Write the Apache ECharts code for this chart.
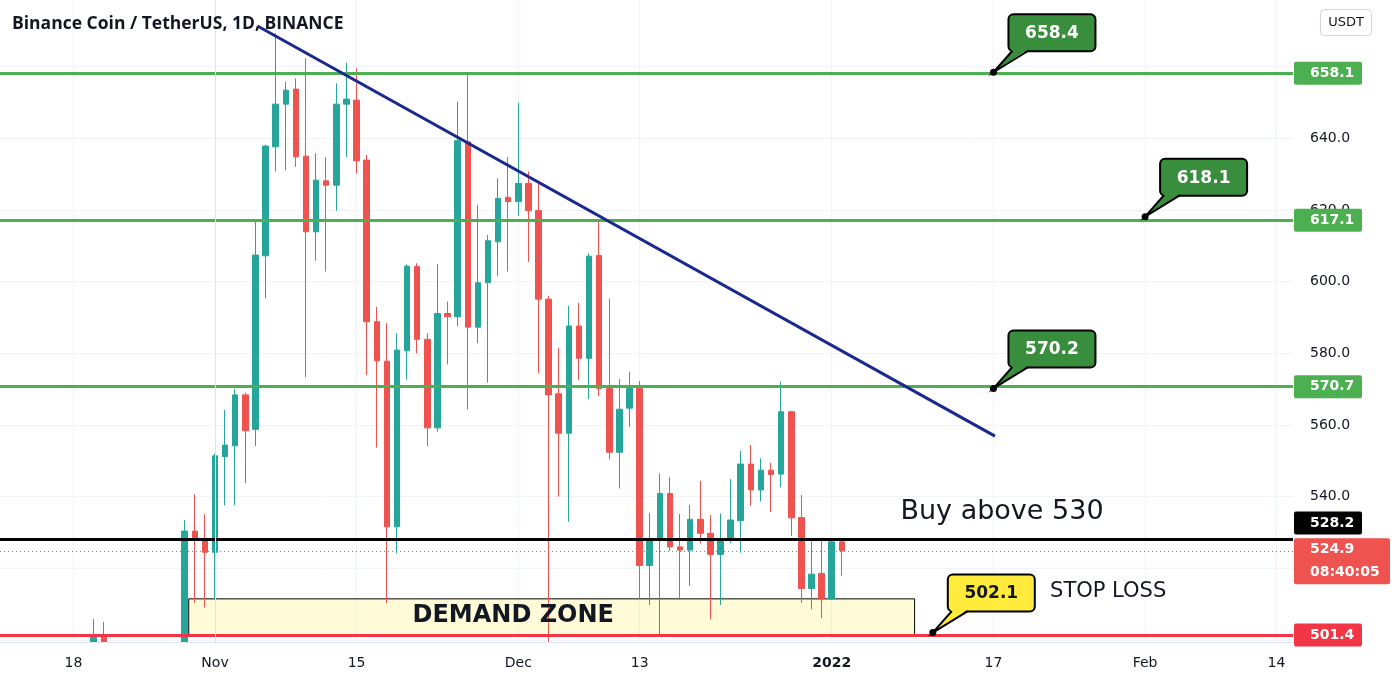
<!DOCTYPE html>
<html><head><meta charset="utf-8">
<script src="https://cdn.jsdelivr.net/npm/echarts@6/dist/echarts.min.js"></script>
<style>html,body{margin:0;padding:0;background:#fff}#c{width:1396px;height:684px}</style>
</head><body><div id="c"></div>
<script>
// ---------- DATA ----------
const dates = ['2021-10-20','2021-10-21','2021-10-29','2021-10-30','2021-10-31',
 '2021-11-01','2021-11-02','2021-11-03','2021-11-04','2021-11-05','2021-11-06','2021-11-07','2021-11-08','2021-11-09','2021-11-10',
 '2021-11-11','2021-11-12','2021-11-13','2021-11-14','2021-11-15','2021-11-16','2021-11-17','2021-11-18','2021-11-19','2021-11-20',
 '2021-11-21','2021-11-22','2021-11-23','2021-11-24','2021-11-25','2021-11-26','2021-11-27','2021-11-28','2021-11-29','2021-11-30',
 '2021-12-01','2021-12-02','2021-12-03','2021-12-04','2021-12-05','2021-12-06','2021-12-07','2021-12-08','2021-12-09','2021-12-10',
 '2021-12-11','2021-12-12','2021-12-13','2021-12-14','2021-12-15','2021-12-16','2021-12-17','2021-12-18','2021-12-19','2021-12-20',
 '2021-12-21','2021-12-22','2021-12-23','2021-12-24','2021-12-25','2021-12-26','2021-12-27','2021-12-28','2021-12-29','2021-12-30',
 '2021-12-31','2022-01-01','2022-01-02'];
const open  = [492,501.3,492,530.4,528.4,
 524.5,551.2,554.2,568.4,558.8,607.2,637.6,649.5,653.7,635.0,
 613.9,628.1,626.9,649.5,650.6,633.9,588.8,577.8,531.6,580.7,
 604.2,583.9,559.2,591.1,590.2,639.0,587.3,599.7,611.1,623.5,
 622.3,627.4,619.8,595.1,568.7,557.7,587.6,578.6,607.3,570.2,
 552.4,564.7,570.2,520.8,527.9,540.9,526.0,525.1,533.7,529.8,
 523.9,528.2,533.3,549.1,541.9,547.4,546.3,563.7,534.2,514.4,
 518.6,511.5,527.4];
const close = [501.3,488,530.4,527.9,524.5,
 551.4,554.4,568.4,558.4,607.4,637.8,649.5,653.4,634.8,613.9,
 628.3,626.9,649.5,650.9,633.7,588.8,577.9,531.6,580.9,604.3,
 583.9,559.2,591.1,590.2,639.3,587.3,599.7,611.4,623.2,622.3,
 627.4,619.8,595.1,568.4,557.7,587.6,578.6,607.1,570.2,552.4,
 564.4,570.2,520.8,528.2,540.9,526.0,525.1,533.7,529.8,523.9,
 528.2,533.5,549.1,541.9,547.4,546.2,563.7,534.1,514.4,518.4,
 511.5,527.4,524.9];
const low   = [488,484,490,510.4,509.1,
 511.2,537.6,537.6,543.7,554.1,595.3,630.7,631.1,632.0,573.3,
 605.8,602.8,619.8,634.7,630.2,573.9,553.7,510.3,524.2,572.6,
 580.0,554.1,558.1,576.9,587.6,564.3,582.8,571.8,601.6,602.8,
 618.3,605.5,574.4,470,540.0,533.0,572.6,567.2,568.1,550.4,
 542.3,559.5,511.4,509.8,501.4,524.9,511.2,515.1,527.0,505.8,
 509.8,527.0,524.4,537.5,538.7,535.8,542.6,529.0,510.4,508.6,
 506.1,511.3,517.9];
const high  = [505.9,505.1,533.5,540.7,535.1,
 552.0,564.2,570.0,569.0,617.2,638.2,669.3,655.8,656.7,662.3,
 635.8,634.7,655.3,661.1,659.5,635.3,593.0,588.4,585.6,604.8,
 605.1,585.6,604.9,594.4,650.2,658.1,621.4,613.0,628.8,634.8,
 649.9,630.7,627.6,596.0,581.5,593.2,594.1,607.9,617.2,595.3,
 572.8,574.9,572.3,535.4,546.5,545.4,535.2,537.7,544.4,534.9,
 535.3,544.9,552.8,554.4,550.7,549.5,572.1,563.9,540.5,528.4,
 528.2,528.4,527.9];

const tickDates  = ['2021-10-18','2021-11-01','2021-11-15','2021-12-01','2021-12-13','2022-01-01','2022-01-17','2022-02-01','2022-02-14'];
const tickLabels = ['18','Nov','15','Dec','13','2022','17','Feb','14'];
const gridPrices  = [500,520,540,560,580,600,620,640,660];
const labelPrices = [500,520,540,560,580,600,620,640];

const resistanceLevels = [658.1, 617.1, 570.7];
const buyLevel = 528.2;
const lastPrice = 524.9;
const lastTimer = '08:40:05';
const stopLevel = 501.4;

const trendDays   = [4.2, 77.15];
const trendPrices = [671.3, 556.9];

const zoneDays   = [-2.6, 69.2];
const zonePrices = [511.5, 501.4];

const calloutDates  = ['2022-01-17','2022-02-01','2022-01-17','2022-01-11'];
const calloutPrices = [658.4, 618.1, 570.2, 502.1];
const calloutTexts  = ['658.4','618.1','570.2','502.1'];

const noteTexts  = ['Buy above 530','STOP LOSS','DEMAND ZONE'];
const noteDays   = [67.8, 82.6, 29.5];
const notePrices = [535.7, 513.5, 506.8];

const title = 'Binance Coin / TetherUS, 1D, BINANCE';
const currency = 'USDT';

// ---------- HELPERS ----------
const base = Date.UTC(2021, 10, 1);
function dayOf(s){ const p = s.split('-').map(Number); return (Date.UTC(p[0], p[1]-1, p[2]) - base) / 86400000; }
const tickDays = tickDates.map(dayOf);
const candles = dates.map((d,i)=>[dayOf(d), open[i], close[i], low[i], high[i]]);

const UP='#26a69a', DOWN='#ef5350', GREEN='#4caf50', TXT='#131722';
const FONT = 'DejaVu Sans';

const xMin = -21.27, xMax = 106.63, yMin = 499.47, yMax = 678.55;

const hLines = resistanceLevels.map(v=>({yAxis:v, lineStyle:{color:GREEN, width:3, type:'solid'}}))
 .concat([
  {yAxis:buyLevel, lineStyle:{color:'#000', width:3, type:'solid'}},
  {yAxis:lastPrice, lineStyle:{color:DOWN, width:1, type:[1,3]}},
  {yAxis:stopLevel, lineStyle:{color:'#f23645', width:3, type:'solid'}}
 ]);

const option = {
 animation:false,
 backgroundColor:'#fff',
 textStyle:{fontFamily:FONT},
 grid:{left:0, right:103, top:0, bottom:42},
 xAxis:[
  {type:'value', min:xMin, max:xMax, position:'bottom', z:0,
   axisLine:{show:false}, axisLabel:{show:false},
   axisTick:{show:false, customValues:tickDays},
   splitLine:{show:true, lineStyle:{color:'#f0f3fa', width:1}}},
  {type:'value', min:xMin, max:xMax, position:'bottom', z:6,
   axisLine:{show:true, lineStyle:{color:'#e0e3eb'}},
   axisTick:{show:false, customValues:tickDays},
   splitLine:{show:false},
   axisLabel:{customValues:tickDays, color:TXT, fontSize:14, margin:14, fontFamily:FONT,
    formatter:v=>{ const i = tickDays.findIndex(t=>Math.abs(t-v)<0.01); if(i<0) return ''; const s=tickLabels[i]; return /^\d{4}$/.test(s)?'{b|'+s+'}':s; },
    rich:{b:{fontWeight:'bold', fontSize:14, color:TXT, fontFamily:FONT}}}}
 ],
 yAxis:[
  {type:'value', position:'right', min:yMin, max:yMax, z:0,
   axisLine:{show:false}, axisLabel:{show:false},
   axisTick:{show:false, customValues:gridPrices},
   splitLine:{show:true, lineStyle:{color:'#f0f3fa', width:1}}},
  {type:'value', position:'right', min:yMin, max:yMax, z:6, offset:0,
   axisLine:{show:true, lineStyle:{color:'#e0e3eb'}},
   axisTick:{show:false, customValues:labelPrices},
   splitLine:{show:false},
   axisLabel:{customValues:labelPrices, color:TXT, fontSize:14, margin:17, fontFamily:FONT, formatter:v=>v.toFixed(1)}}
 ],
 series:[
  {type:'candlestick', data:candles, barWidth:6, clip:true, z:2,
   itemStyle:{color:UP, color0:DOWN, borderColor:UP, borderColor0:DOWN, borderWidth:1}},
  {type:'line', data:[], z:4, silent:true,
   markArea:{silent:true, label:{show:false},
    itemStyle:{color:'rgba(255,235,59,0.2)', borderColor:'#000', borderWidth:1},
    data:[[{coord:[zoneDays[0], zonePrices[0]]},{coord:[zoneDays[1], zonePrices[1]]}]]}},
  {type:'line', data:[], z:5, silent:true,
   markLine:{silent:true, symbol:['none','none'], label:{show:false}, animation:false,
    data: hLines.concat([[{coord:[trendDays[0],trendPrices[0]], lineStyle:{color:'#1a2a8c', width:3, type:'solid'}},{coord:[trendDays[1],trendPrices[1]]}]])}}
 ]
};

const chart = echarts.init(document.getElementById('c'), null, {renderer:'canvas'});
chart.setOption(option);

const toPx = (d,p)=>chart.convertToPixel({gridIndex:0},[d,p]);
const axisX = toPx(xMax, yMin)[0];
const axisY = toPx(xMax, yMin)[1];
const G = [];

// cover everything drawn below the plot (clips candles at the time axis)
G.push({type:'rect', z:3, shape:{x:0, y:axisY+0.5, width:axisX, height:684-axisY}, style:{fill:'#fff'}});

// title
G.push({type:'text', left:12, top:15, z:100, style:{text:title, fill:TXT, font:'bold 17.5px "Open Sans"'}});
// currency box
G.push({type:'rect', z:100, shape:{x:1320.5, y:9.5, width:51, height:26, r:4}, style:{fill:'#fff', stroke:'#d1d4dc', lineWidth:1}});
G.push({type:'text', z:101, x:1346, y:22.5, style:{text:currency, fill:TXT, font:'13px "DejaVu Sans"', align:'center', verticalAlign:'middle'}});

// price tags
function tag(price, lines, bg, dy, w){
 const y = toPx(0, price)[1] + dy;
 const h = lines.length===1 ? 23 : 46;
 G.push({type:'rect', z:100, shape:{x:axisX+1, y:y-h/2, width:w, height:h, r:2}, style:{fill:bg}});
 lines.forEach((t,k)=>{
  G.push({type:'text', z:101, x:axisX+17, y:y - h/2 + 11.5 + k*23,
   style:{text:t, fill:'#fff', font:'bold 14px "DejaVu Sans"', align:'left', verticalAlign:'middle'}});
 });
}
resistanceLevels.forEach(v=>tag(v, [v.toFixed(1)], GREEN, 0, 68));
tag(buyLevel, [buyLevel.toFixed(1)], '#000', -16, 68);
tag(lastPrice, [lastPrice.toFixed(1), lastTimer], DOWN, 10.5, 96);
tag(stopLevel, [stopLevel.toFixed(1)], '#f23645', 0, 68);

// callouts
calloutDates.forEach((d,i)=>{
 const [ax, ay] = toPx(dayOf(d), calloutPrices[i]);
 const yellow = i===3;
 const fill = yellow ? '#ffeb3b' : '#388e3c';
 const bx = ax+15, by = ay-58, bw = 87, bh = 37;
 G.push({type:'rect', z:110, shape:{x:bx, y:by, width:bw, height:bh, r:5}, style:{fill:fill, stroke:'#000', lineWidth:2}});
 G.push({type:'polygon', z:111, shape:{points:[[ax,ay],[ax+19,ay-23],[ax+35,ay-23]]}, style:{fill:fill}});
 G.push({type:'polyline', z:112, shape:{points:[[ax+19,ay-21.5],[ax,ay],[ax+35,ay-21.5]]}, style:{stroke:'#000', lineWidth:2, fill:null}});
 G.push({type:'circle', z:113, shape:{cx:ax, cy:ay, r:3.5}, style:{fill:'#000'}});
 G.push({type:'text', z:114, x:bx+bw/2, y:by+bh/2+1, style:{text:calloutTexts[i], fill: yellow?'#131722':'#fff', font:'bold 17px "DejaVu Sans"', align:'center', verticalAlign:'middle'}});
});

// notes
noteTexts.forEach((t,i)=>{
 const [x,y] = toPx(noteDays[i], notePrices[i]);
 const font = i===0 ? '27px "DejaVu Sans"' : (i===1 ? '21px "DejaVu Sans"' : 'bold 24px "DejaVu Sans"');
 G.push({type:'text', z:120, x:x, y:y, style:{text:t, fill:'#131722', font:font, align: i===2?'center':'left', verticalAlign:'middle'}});
});

chart.setOption({graphic:G});
</script></body></html>
